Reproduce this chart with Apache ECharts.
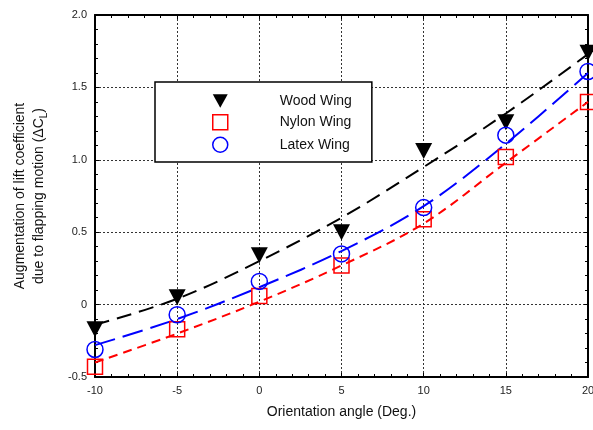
<!DOCTYPE html>
<html>
<head>
<meta charset="utf-8">
<script src="https://cdn.jsdelivr.net/npm/echarts@6/dist/echarts.min.js"></script>
<style>
  html, body { margin: 0; padding: 0; background: #fff; }
  #chart { width: 593px; height: 430px; }
</style>
</head>
<body>
<div id="chart"></div>
<script>
// measured points
const angles = [-10, -5, 0, 5, 10, 15, 20];
const woodWing = [-0.17, 0.05, 0.34, 0.50, 1.06, 1.26, 1.74];
const nylonWing = [-0.43, -0.17, 0.06, 0.27, 0.59, 1.02, 1.40];
const latexWing = [-0.31, -0.07, 0.16, 0.35, 0.67, 1.17, 1.61];
// fitted curves
const woodFit = [-0.14, 0.04, 0.30, 0.60, 0.95, 1.32, 1.73];
const nylonFit = [-0.40, -0.20, 0.02, 0.27, 0.56, 0.98, 1.40];
const latexFit = [-0.28, -0.10, 0.12, 0.37, 0.68, 1.11, 1.60];

const pair = (ys) => angles.map((x, i) => [x, ys[i]]);
const downTri = 'path://M0,0L10,0L5,9Z';
const font = 'Arial, "Liberation Sans", sans-serif';

const chart = echarts.init(document.getElementById('chart'));

const frameAxis = {
  axisLine: { onZero: false, lineStyle: { color: '#000', width: 2 } },
  axisTick: { inside: true, length: 4, lineStyle: { color: '#000' } },
  minorTick: { show: true, splitNumber: 5, length: 3, lineStyle: { color: '#000' } }
};

const option = {
  animation: false,
  grid: { left: 95, right: 5, top: 15, bottom: 53, outerBoundsMode: 'none', containLabel: false },
  legend: {
    orient: 'vertical',
    left: 155,
    top: 82,
    width: 217,
    padding: [12, 20, 9, 57],
    backgroundColor: '#fff',
    borderColor: '#000',
    borderWidth: 1.5,
    itemGap: 6,
    itemWidth: 15,
    itemHeight: 15,
    textStyle: { fontFamily: font, fontSize: 14, color: '#111', padding: [0, 0, 0, 47] },
    data: [
      { name: 'Wood Wing', icon: downTri, itemStyle: { color: '#000', borderWidth: 0 } },
      { name: 'Nylon Wing', icon: 'rect', itemStyle: { color: '#fff', borderColor: '#f00', borderWidth: 1.5 } },
      { name: 'Latex Wing', icon: 'circle', itemStyle: { color: '#fff', borderColor: '#00f', borderWidth: 1.5 } }
    ]
  },
  xAxis: [
    {
      type: 'value', min: -10, max: 20, interval: 5,
      name: 'Orientation angle (Deg.)',
      nameLocation: 'middle', nameGap: 28,
      nameTextStyle: { fontFamily: font, fontSize: 14, color: '#111' },
      ...frameAxis,
      axisLabel: { fontFamily: font, fontSize: 11, color: '#222', margin: 8 },
      splitLine: { show: true, lineStyle: { color: '#333', type: [2, 2], width: 1 } }
    },
    {
      type: 'value', position: 'top', min: -10, max: 20, interval: 5,
      ...frameAxis,
      axisLabel: { show: false },
      splitLine: { show: false }
    }
  ],
  yAxis: [
    {
      type: 'value', min: -0.5, max: 2.0, interval: 0.5,
      name: 'Augmentation of lift coefficient\ndue to flapping motion (ΔC{sub|L})',
      nameLocation: 'middle', nameGap: 46,
      nameTextStyle: {
        fontFamily: font, fontSize: 14, color: '#111', lineHeight: 19,
        rich: { sub: { fontFamily: font, fontSize: 10, color: '#111', verticalAlign: 'bottom', padding: [6, 0, 0, 0] } }
      },
      ...frameAxis,
      axisLabel: {
        fontFamily: font, fontSize: 11, color: '#222', margin: 8,
        formatter: (v) => (v === 0 ? '0' : v.toFixed(1))
      },
      splitLine: { show: true, lineStyle: { color: '#333', type: [2, 2], width: 1 } }
    },
    {
      type: 'value', position: 'right', min: -0.5, max: 2.0, interval: 0.5,
      ...frameAxis,
      axisLabel: { show: false },
      splitLine: { show: false }
    }
  ],
  series: [
    {
      name: 'wood fit', type: 'line', data: pair(woodFit), smooth: 0.35,
      showSymbol: false, symbol: 'none', z: 2,
      lineStyle: { color: '#000', width: 2, type: [15, 8] }
    },
    {
      name: 'latex fit', type: 'line', data: pair(latexFit), smooth: 0.35,
      showSymbol: false, symbol: 'none', z: 2,
      lineStyle: { color: '#00f', width: 2, type: [21, 8] }
    },
    {
      name: 'nylon fit', type: 'line', data: pair(nylonFit), smooth: 0.35,
      showSymbol: false, symbol: 'none', z: 2,
      lineStyle: { color: '#f00', width: 2, type: [9, 6] }
    },
    {
      name: 'Wood Wing', type: 'scatter', data: pair(woodWing), clip: false, z: 4,
      symbol: downTri, symbolSize: [17, 16],
      itemStyle: { color: '#000', opacity: 1 }
    },
    {
      name: 'Nylon Wing', type: 'scatter', data: pair(nylonWing), clip: false, z: 4,
      symbol: 'rect', symbolSize: 15,
      itemStyle: { color: 'rgba(0,0,0,0)', borderColor: '#f00', borderWidth: 1.5, opacity: 1 }
    },
    {
      name: 'Latex Wing', type: 'scatter', data: pair(latexWing), clip: false, z: 4,
      symbol: 'circle', symbolSize: 16,
      itemStyle: { color: 'rgba(0,0,0,0)', borderColor: '#00f', borderWidth: 1.5, opacity: 1 }
    }
  ]
};

chart.setOption(option);
</script>
</body>
</html>
